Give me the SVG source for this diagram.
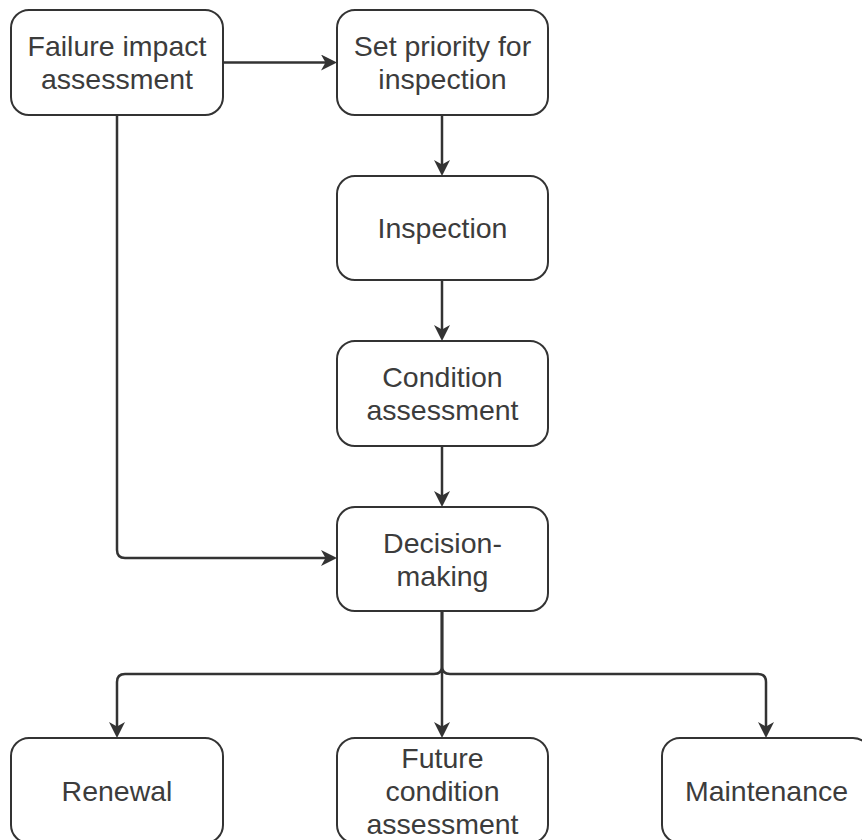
<svg xmlns="http://www.w3.org/2000/svg" width="862" height="840" viewBox="0 0 862 840">
  <defs>
    <style>
      .box { fill: #ffffff; stroke: #333333; stroke-width: 2; }
      .lbl { font-family: "Liberation Sans", Arial, sans-serif; font-size: 28.5px; fill: #3c3c3c; text-anchor: middle; }
      .edge { fill: none; stroke: #333333; stroke-width: 2.5; marker-end: url(#arrow); }
    </style>
    <marker id="arrow" markerUnits="userSpaceOnUse" markerWidth="18" markerHeight="18" refX="12" refY="8" orient="auto">
      <path d="M0,0 L16,8 L0,16 L4.5,8 z" fill="#333333"/>
    </marker>
  </defs>
  <rect width="862" height="840" fill="#ffffff"/>

  <g id="connectors">
    <path class="edge" d="M223,62.5 H333"/>
    <path class="edge" d="M442,115 V172"/>
    <path class="edge" d="M442,280 V337"/>
    <path class="edge" d="M442,446 V503"/>
    <path class="edge" d="M117,115 V550 Q117,558 125,558 H333"/>
    <path class="edge" d="M442,611 V666 Q442,674 434,674 H125 Q117,674 117,682 V734"/>
    <path class="edge" d="M442,611 V734"/>
    <path class="edge" d="M442,611 V666 Q442,674 450,674 H758 Q766,674 766,682 V734"/>
  </g>

  <g id="n-failure">
    <rect class="box" x="11" y="10" width="212" height="105" rx="18"/>
    <text class="lbl" x="117" y="56">Failure impact</text>
    <text class="lbl" x="117" y="89">assessment</text>
  </g>
  <g id="n-priority">
    <rect class="box" x="337" y="10" width="211" height="105" rx="18"/>
    <text class="lbl" x="442.5" y="56">Set priority for</text>
    <text class="lbl" x="442.5" y="89">inspection</text>
  </g>
  <g id="n-inspection">
    <rect class="box" x="337" y="176" width="211" height="104" rx="18"/>
    <text class="lbl" x="442.5" y="238">Inspection</text>
  </g>
  <g id="n-condition">
    <rect class="box" x="337" y="341" width="211" height="105" rx="18"/>
    <text class="lbl" x="442.5" y="387">Condition</text>
    <text class="lbl" x="442.5" y="420">assessment</text>
  </g>
  <g id="n-decision">
    <rect class="box" x="337" y="507" width="211" height="104" rx="18"/>
    <text class="lbl" x="442.5" y="553">Decision-</text>
    <text class="lbl" x="442.5" y="586">making</text>
  </g>
  <g id="n-renewal">
    <rect class="box" x="11" y="738" width="212" height="105" rx="18"/>
    <text class="lbl" x="117" y="801">Renewal</text>
  </g>
  <g id="n-future">
    <rect class="box" x="337" y="738" width="211" height="105" rx="18"/>
    <text class="lbl" x="442.5" y="768">Future</text>
    <text class="lbl" x="442.5" y="801">condition</text>
    <text class="lbl" x="442.5" y="834">assessment</text>
  </g>
  <g id="n-maintenance">
    <rect class="box" x="662" y="738" width="209" height="105" rx="18"/>
    <text class="lbl" x="766.5" y="801">Maintenance</text>
  </g>
</svg>
